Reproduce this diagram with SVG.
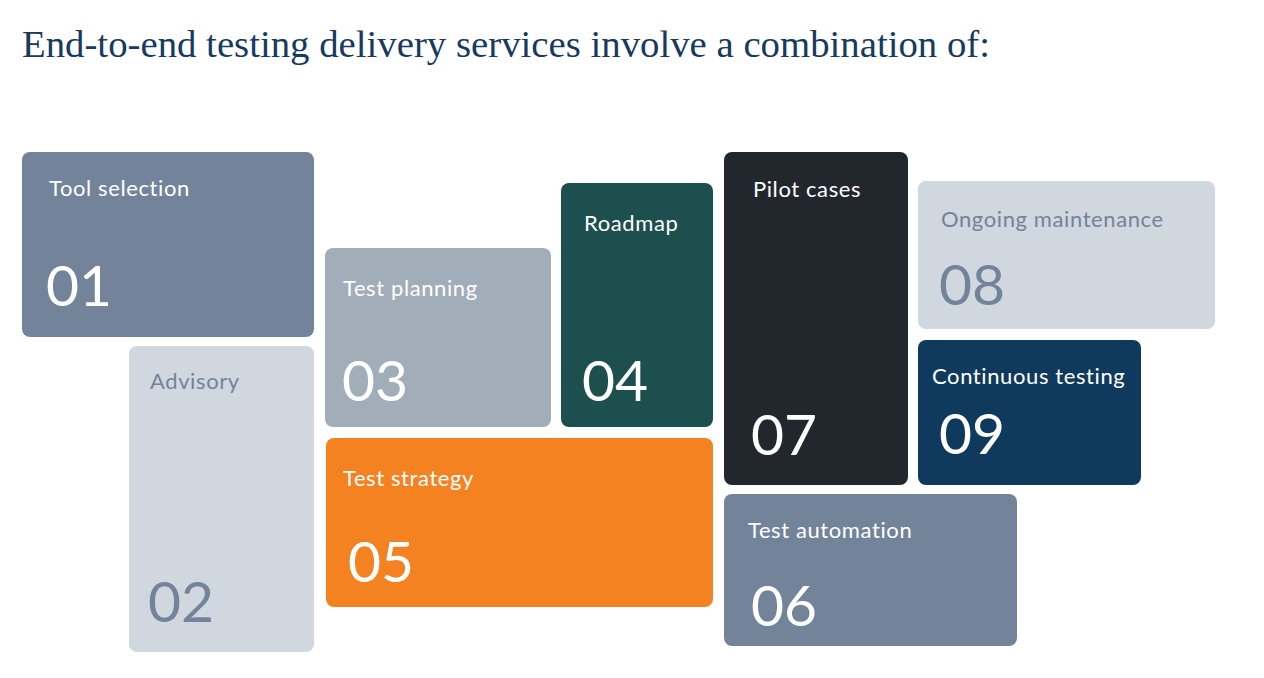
<svg xmlns="http://www.w3.org/2000/svg" width="1264" height="678" viewBox="0 0 1264 678">
<style>
.title{font-family:"Liberation Serif","DejaVu Serif",serif;font-size:38px;fill:#173a5e}
.lbl{font-family:Lato,"Open Sans",sans-serif;font-size:22px;letter-spacing:0.6px;fill:#ffffff}
.num{font-family:Lato,"Open Sans",sans-serif;font-size:57px;fill:#ffffff}
.dk{fill:#73839a}
</style>
<rect width="1264" height="678" fill="#ffffff"/>
<text class="title" x="22" y="57" textLength="968" lengthAdjust="spacingAndGlyphs">End-to-end testing delivery services involve a combination of:</text>
<g id="n01"><rect x="22" y="152" width="292" height="185" rx="8" fill="#73839a"/><text class="lbl" x="49" y="196">Tool selection</text><text class="num" x="46" y="306">01</text></g>
<g id="n02"><rect x="129" y="346" width="185" height="306" rx="8" fill="#d0d7de"/><text class="lbl dk" x="150" y="389">Advisory</text><text class="num dk" x="148" y="622">02</text></g>
<g id="n03"><rect x="325" y="248" width="226" height="179" rx="8" fill="#a2adba"/><text class="lbl" x="343" y="296">Test planning</text><text class="num" x="342" y="401">03</text></g>
<g id="n04"><rect x="561" y="183" width="152" height="244" rx="8" fill="#1c4f4d"/><text class="lbl" x="584" y="231">Roadmap</text><text class="num" x="582" y="401">04</text></g>
<g id="n05"><rect x="326" y="438" width="387" height="169" rx="8" fill="#f58220"/><text class="lbl" x="343" y="486">Test strategy</text><text class="num" x="348" y="582">05</text></g>
<g id="n06"><rect x="724" y="494" width="293" height="152" rx="8" fill="#73839a"/><text class="lbl" x="748" y="538">Test automation</text><text class="num" x="751" y="626">06</text></g>
<g id="n07"><rect x="724" y="152" width="184" height="333" rx="8" fill="#22272e"/><text class="lbl" x="753" y="197">Pilot cases</text><text class="num" x="751" y="455">07</text></g>
<g id="n08"><rect x="918" y="181" width="297" height="148" rx="8" fill="#d0d7de"/><text class="lbl dk" x="941" y="227">Ongoing maintenance</text><text class="num dk" x="939" y="305">08</text></g>
<g id="n09"><rect x="918" y="340" width="223" height="145" rx="8" fill="#0f3a5e"/><text class="lbl" x="932" y="384">Continuous testing</text><text class="num" x="939" y="454">09</text></g>
<g id="connectors"></g>
</svg>
